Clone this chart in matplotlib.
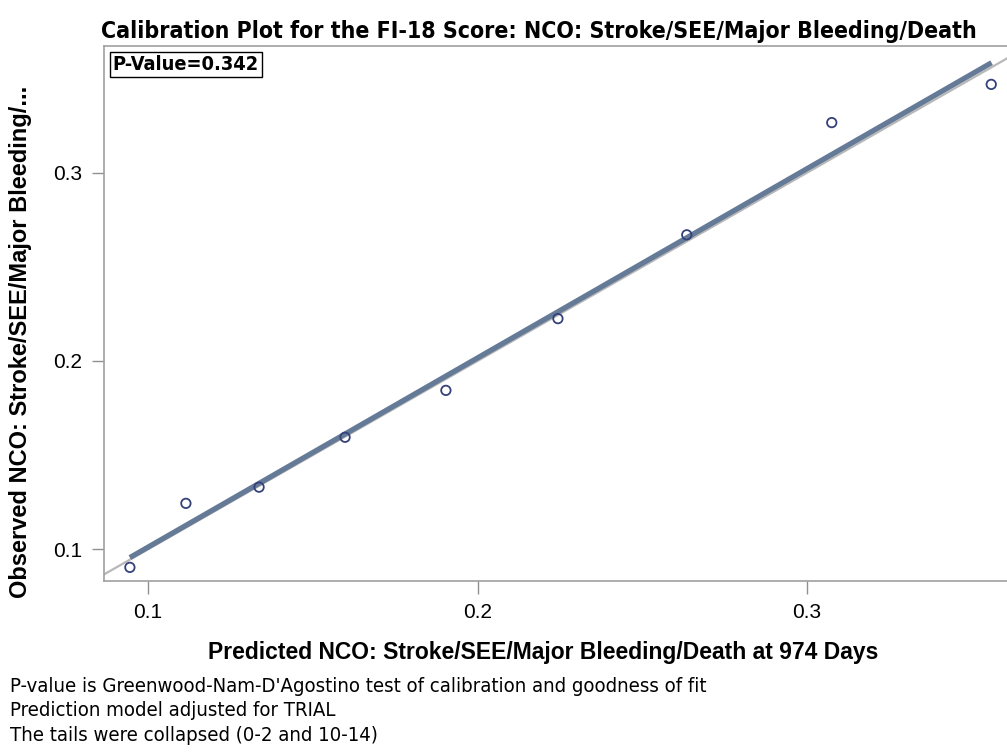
import numpy as np
import matplotlib.pyplot as plt
from matplotlib import font_manager

# decile groups: predicted vs observed event rate
predicted = [0.0945, 0.1115, 0.1337, 0.1598, 0.1904, 0.2244, 0.2635, 0.3075, 0.3559]
observed = [0.0904, 0.1244, 0.1330, 0.1595, 0.1844, 0.2225, 0.2670, 0.3266, 0.3469]

# fitted calibration line end points
fit_x = [0.0945, 0.3560]
fit_y = [0.0956, 0.3584]

p_value = 0.342


def narrow_font(bold):
    """Look for an upright narrow/condensed face; fall back to plain Liberation Sans."""
    for f in font_manager.fontManager.ttflist:
        label = (f.name + ' ' + str(f.stretch)).lower()
        if ('narrow' in label or 'condensed' in label) and f.style == 'normal':
            w = f.weight if isinstance(f.weight, int) else 400
            if (w >= 600) == bold:
                return font_manager.FontProperties(fname=f.fname), True
    return font_manager.FontProperties(family='Liberation Sans',
                                       weight='bold' if bold else 'normal'), False


bold_np, has_bold = narrow_font(True)
reg_np, has_reg = narrow_font(False)

plt.rcParams['font.family'] = ['Liberation Sans', 'DejaVu Sans']

fig = plt.figure(figsize=(10.07, 7.56), dpi=100)
ax = fig.add_axes([0.1033, 0.2315, 0.8997, 0.7077])

ax.set_xlim(0.08665, 0.3616)
ax.set_ylim(0.08317, 0.3673)

# reference diagonal
ax.plot([0, 1], [0, 1], color='#b8b8b8', lw=1.6, zorder=1)
ax.plot(fit_x, fit_y, color='#657a97', lw=3.8, solid_capstyle='butt', zorder=2)
ax.scatter(predicted, observed, s=46, facecolors='none', edgecolors='#34427a', linewidths=1.3, zorder=3)

ax.set_xticks([0.1, 0.2, 0.3])
ax.set_yticks([0.1, 0.2, 0.3])
ax.set_xticklabels(['0.1', '0.2', '0.3'])
ax.set_yticklabels(['0.1', '0.2', '0.3'])
ax.tick_params(direction='out', length=9, width=1, color='#909090', labelsize=15, pad=7)
for side in ['left', 'bottom', 'top']:
    ax.spines[side].set_color('#a0a0a0')
    ax.spines[side].set_linewidth(1.2)
ax.spines['right'].set_visible(False)

ax.set_xlabel('Predicted NCO: Stroke/SEE/Major Bleeding/Death at 974 Days',
              fontsize=16.5, fontweight='bold')
ax.xaxis.set_label_coords(0.4845, -0.112)
ax.set_ylabel('Observed NCO: Stroke/SEE/Major Bleeding/...',
              fontsize=17, fontweight='bold')
ax.yaxis.set_label_coords(-0.079, 0.447)

title_fp = bold_np.copy()
title_fp.set_size(16.6 if has_bold else 17.5)
fig.text(0.535, 0.958, 'Calibration Plot for the FI-18 Score: NCO: Stroke/SEE/Major Bleeding/Death',
         ha='center', va='center', fontproperties=title_fp)

box_fp = bold_np.copy()
box_fp.set_size(14.3 if has_bold else 14)
ax.text(0.0095, 0.984, 'P-Value=%.3f' % p_value, transform=ax.transAxes, ha='left', va='top',
        fontproperties=box_fp,
        bbox=dict(boxstyle='square,pad=0.15', facecolor='white', edgecolor='black', lw=1))

note_fp = reg_np.copy()
note_fp.set_size(14.6 if has_reg else 14.7)
notes = ["P-value is Greenwood-Nam-D'Agostino test of calibration and goodness of fit",
         'Prediction model adjusted for TRIAL',
         'The tails were collapsed (0-2 and 10-14)']
for i, line in enumerate(notes):
    fig.text(0.01, 0.0925 - i * 0.0325, line, ha='left', va='center', fontproperties=note_fp)

fig.savefig('out.png', dpi=100)
